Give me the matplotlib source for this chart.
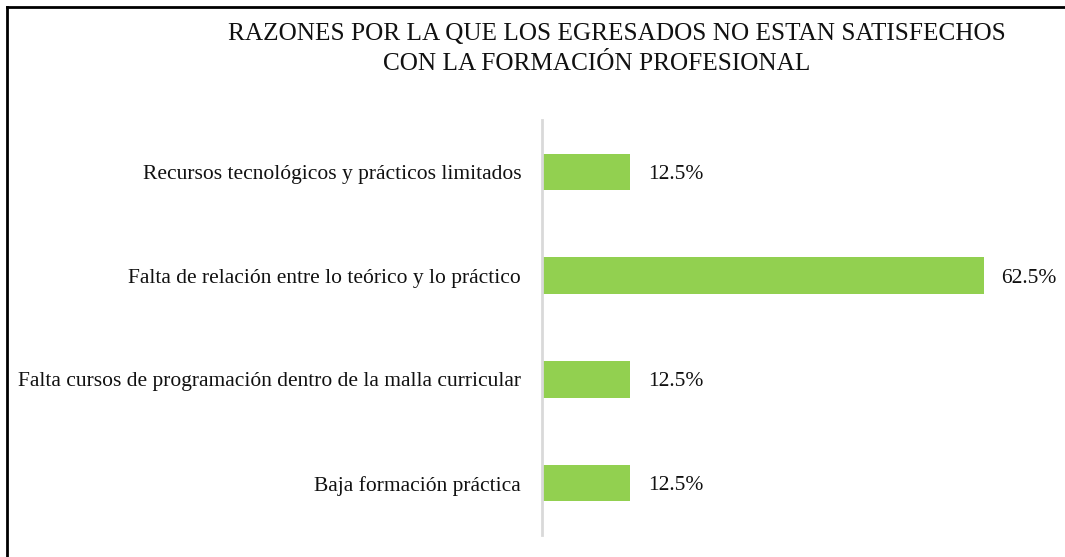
import matplotlib.pyplot as plt
from matplotlib.lines import Line2D

categorias = ['Recursos tecnológicos y prácticos limitados',
              'Falta de relación entre lo teórico y lo práctico',
              'Falta cursos de programación dentro de la malla curricular',
              'Baja formación práctica']
porcentajes = [12.5, 62.5, 12.5, 12.5]
etiquetas = ['12.5%', '62.5%', '12.5%', '12.5%']

plt.rcParams['font.family'] = ['Liberation Serif', 'DejaVu Serif']

fig = plt.figure(figsize=(10.65, 5.57), dpi=100)
ax = fig.add_axes([542 / 1065, 22 / 557, (1037 - 542) / 1065, 415 / 557])

pos = range(len(categorias))
ax.barh(pos, porcentajes, height=0.35, color='#92D050')
ax.set_ylim(-0.5, len(categorias) - 0.5)
ax.invert_yaxis()
ax.set_xlim(0, 70)

for i, (v, t) in enumerate(zip(porcentajes, etiquetas)):
	ax.annotate(t, (v, i), xytext=(12.5, 0), textcoords='offset points',
		va='center_baseline', ha='left', fontsize=15.5, color='#111111')

ax.set_yticks(list(pos))
ax.set_yticklabels(categorias, fontsize=15.5, color='#111111')
ax.tick_params(axis='y', length=0, pad=15)
ax.set_xticks([])
for s in ['top', 'right', 'bottom']:
	ax.spines[s].set_visible(False)
ax.spines['left'].set_color('#D9D9D9')
ax.spines['left'].set_linewidth(2)

fig.text(617 / 1065, 1 - 31 / 557, 'RAZONES POR LA QUE LOS EGRESADOS NO ESTAN SATISFECHOS',
	ha='center', va='center_baseline', fontsize=18.2, color='#111111')
fig.text(597 / 1065, 1 - 62 / 557, 'CON LA FORMACIÓN PROFESIONAL',
	ha='center', va='center_baseline', fontsize=18.2, color='#111111')

# marco del grafico
fig.add_artist(Line2D([7 / 1065, 1], [1 - 7 / 557, 1 - 7 / 557], color='black', lw=2, transform=fig.transFigure))
fig.add_artist(Line2D([7 / 1065, 7 / 1065], [0, 1 - 7 / 557], color='black', lw=2, transform=fig.transFigure))

fig.savefig('out.png', dpi=100)
